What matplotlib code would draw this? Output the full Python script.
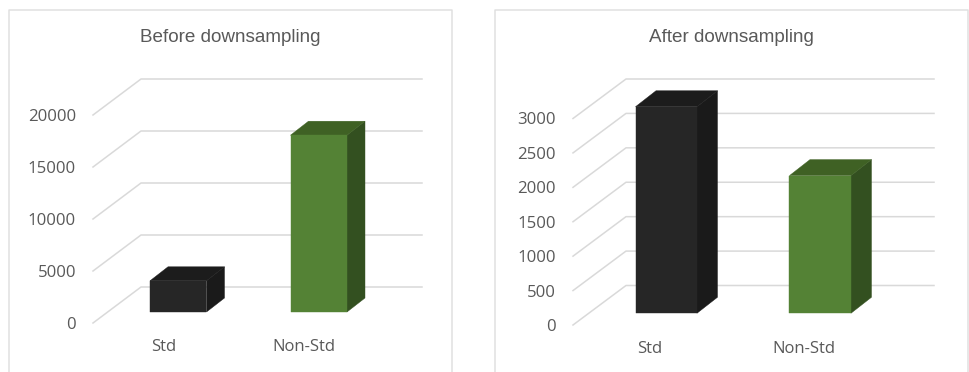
import matplotlib
matplotlib.use("Agg")
import matplotlib.pyplot as plt
from matplotlib.lines import Line2D

W = 970
H = 372

categories = ["Std", "Non-Std"]
before_values = [3000, 17000]
after_values = [3000, 2000]
before_ticks = [0, 5000, 10000, 15000, 20000]
after_ticks = [0, 500, 1000, 1500, 2000, 2500, 3000]

front_colors = ["#262626", "#548235"]
side_colors = ["#1a1a1a", "#335020"]
top_colors = ["#1c1c1c", "#3f6124"]
grid_color = "#d9d9d9"
frame_color = "#e0e0e0"
text_color = "#595959"
label_font = "Open Sans"
title_font = "Liberation Sans"


def draw_frame(fig, left, right, top):
    xs = [left / W, left / W, right / W, right / W]
    ys = [0, 1 - top / H, 1 - top / H, 0]
    fig.add_artist(Line2D(xs, ys, color=frame_color, lw=1.1))


def draw_panel(fig, wall, depth, bar_w, bar_d, ticks, values, title, title_xy):
    # wall is the back wall in pixels: left, right, top, bottom
    left, right, top, bottom = wall
    ax = fig.add_axes([left / W, 1 - bottom / H, (right - left) / W, (bottom - top) / H])
    ymax = ticks[-1]
    ax.set_xlim(0, len(categories))
    ax.set_ylim(0, ymax)
    ax.axis('off')

    # pixels to data units
    ux = len(categories) / (right - left)
    uy = ymax / (bottom - top)
    dx, dy = depth

    for t in ticks:
        ax.plot([-dx * ux, 0, len(categories)], [t - dy * uy, t, t],
                color=grid_color, lw=1.1, clip_on=False, zorder=1)
        ax.text((-dx - 17) * ux, t - (dy + 2) * uy, str(t), ha='right', va='center',
                fontsize=12.1, color=text_color, family=label_font, clip_on=False)

    for i, v in enumerate(values):
        # bar sits in the middle of the floor depth
        cx = i + 0.5
        back_l = cx - bar_w * ux / 2 + (-dx / 2 + bar_d[0] / 2) * ux
        back_r = back_l + bar_w * ux
        front_l = back_l - bar_d[0] * ux
        front_r = back_r - bar_d[0] * ux
        back_y = (-dy / 2 + bar_d[1] / 2) * uy
        front_y = back_y - bar_d[1] * uy
        ax.fill([front_r, back_r, back_r, front_r],
                [front_y, back_y, back_y + v, front_y + v],
                color=side_colors[i], lw=0.3, clip_on=False, zorder=3)
        ax.fill([front_l, back_l, back_r, front_r],
                [front_y + v, back_y + v, back_y + v, front_y + v],
                color=top_colors[i], lw=0.3, clip_on=False, zorder=3)
        ax.fill([front_l, front_r, front_r, front_l],
                [front_y, front_y, front_y + v, front_y + v],
                color=front_colors[i], lw=0.3, clip_on=False, zorder=4)
        ax.text(cx - dx * ux, -(dy + 24) * uy, categories[i], ha='center', va='center',
                fontsize=12, color=text_color, family=label_font, clip_on=False)

    fig.text(title_xy[0] / W, 1 - title_xy[1] / H, title, ha='center', va='center',
             fontsize=13.6, color=text_color, family=title_font)
    return ax


if __name__ == '__main__':
    fig = plt.figure(figsize=(W / 100, H / 100), dpi=100)
    draw_frame(fig, 9.5, 452, 10)
    draw_frame(fig, 495.5, 968.5, 9.5)
    draw_panel(fig, (141, 422, 79, 287), (48, 36), 56.5, (18, 14), before_ticks, before_values,
               "Before downsampling", (230, 38))
    draw_panel(fig, (626, 934, 79, 285.5), (53, 39.5), 61.5, (20.5, 16), after_ticks, after_values,
               "After downsampling", (731, 37))
    fig.savefig("out.png", dpi=100)
